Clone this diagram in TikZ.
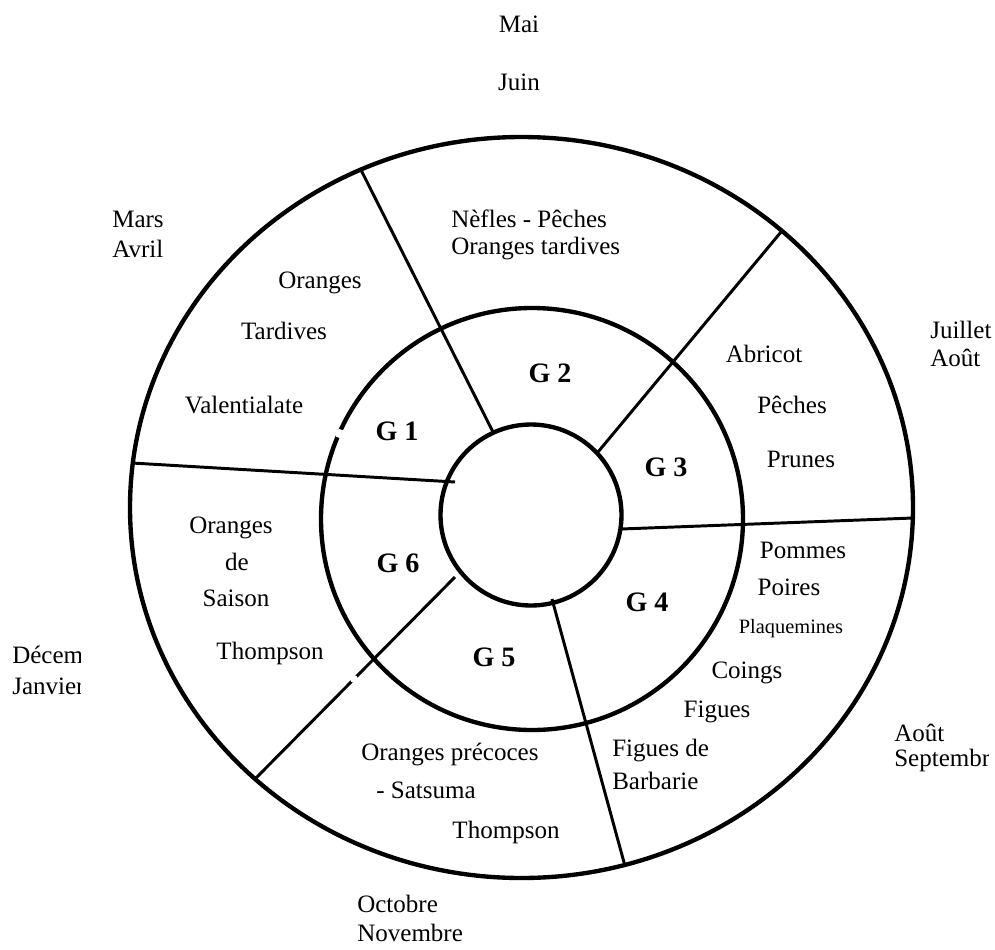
\documentclass[tikz,border=0pt]{standalone}
\usepackage{fontspec}
\setmainfont{Liberation Serif}

\begin{document}
\begin{tikzpicture}[
		x=0.025cm, y=-0.025cm,
		ring/.style={line width=3.1pt},
		spoke/.style={line width=2.1pt},
		txt/.style={inner sep=0pt, font=\fontsize{17.8}{21}\selectfont},
		smalltxt/.style={inner sep=0pt, font=\fontsize{14.5}{17}\selectfont},
		grp/.style={inner sep=0pt, font=\fontsize{20}{24}\selectfont\bfseries}
	]
		\useasboundingbox (0,0) rectangle (995,949);

		% rings
		\coordinate (c) at (531,515);
		\draw[ring] (521.5,507.5) ellipse[x radius=391.5, y radius=370.5];
		\draw[ring] (532,519) circle[radius=211];
		\draw[ring] (c) circle[radius=90.5];

		% spokes
		\coordinate (g12out) at (360,168);  \coordinate (g12in) at (493,432);
		\coordinate (g23out) at (781,232);  \coordinate (g23in) at (598,452);
		\coordinate (g34out) at (913,518);  \coordinate (g34in) at (621,529);
		\coordinate (g45out) at (625,866);  \coordinate (g45in) at (552,599);
		\coordinate (g56out) at (255,779);  \coordinate (g56in) at (455,577);
		\coordinate (g61out) at (132,463);  \coordinate (g61in) at (455,482);
		\foreach \a/\b in {g12out/g12in,g23out/g23in,g34out/g34in,g45out/g45in,g56out/g56in,g61out/g61in}
			\draw[spoke] (\a) -- (\b);

		% gaps of the scan
		\fill[white] (339.5,433.5) circle[radius=4.5];
		\fill[white] (354,679) circle[radius=4];

		% groups
		\node[grp] (g1) at (397,431) {G 1};
		\node[grp] (g2) at (550,373) {G 2};
		\node[grp] (g3) at (666,467) {G 3};
		\node[grp] (g4) at (647,602) {G 4};
		\node[grp] (g5) at (494,657) {G 5};
		\node[grp] (g6) at (398,563) {G 6};

		% fruits
		\node[txt, anchor=base west] (nefles) at (451,227) {Nèfles - Pêches};
		\node[txt, anchor=base west] (tardives2) at (451,254) {Oranges tardives};
		\node[txt, anchor=base] (oranges1) at (320,288) {Oranges};
		\node[txt, anchor=base] (tardives1) at (284,339) {Tardives};
		\node[txt, anchor=base] (valencia) at (244,413) {Valentialate};
		\node[txt, anchor=base] (abricot) at (764,362) {Abricot};
		\node[txt, anchor=base] (peches) at (792,413) {Pêches};
		\node[txt, anchor=base] (prunes) at (801,467) {Prunes};
		\node[txt, anchor=base] (oranges6) at (231,533) {Oranges};
		\node[txt, anchor=base] (de6) at (237,570) {de};
		\node[txt, anchor=base] (saison) at (236,606) {Saison};
		\node[txt, anchor=base] (thompson6) at (270,659) {Thompson};
		\node[txt, anchor=base] (pommes) at (803,558) {Pommes};
		\node[txt, anchor=base] (poires) at (789,595) {Poires};
		\node[smalltxt, anchor=base] (plaquemines) at (791,633) {Plaquemines};
		\node[txt, anchor=base] (coings) at (747,678) {Coings};
		\node[txt, anchor=base] (figues) at (717,717) {Figues};
		\node[txt, anchor=base west] (figuesde) at (612,756) {Figues de};
		\node[txt, anchor=base west] (barbarie) at (612,789) {Barbarie};
		\node[txt, anchor=base west] (precoces) at (361,760) {Oranges précoces};
		\node[txt, anchor=base west] (satsuma) at (376,798) {- Satsuma};
		\node[txt, anchor=base] (thompson5) at (506,838) {Thompson};

		% months
		\node[txt, anchor=base] (mai) at (519,32) {Mai};
		\node[txt, anchor=base] (juin) at (519,90) {Juin};
		\node[txt, anchor=base west] (mars) at (112,227) {Mars};
		\node[txt, anchor=base west] (avril) at (112,257) {Avril};
		\node[txt, anchor=base west] (juillet) at (930,338) {Juillet};
		\node[txt, anchor=base west] (aout1) at (930,366) {Août};
		\node[txt, anchor=base west] (octobre) at (357,912) {Octobre};
		\node[txt, anchor=base west] (novembre) at (357,941) {Novembre};
		\begin{scope}
			\clip (0,600) rectangle (80,720);
			\node[txt, anchor=base west] (decembre) at (12,663) {Décembre};
			\node[txt, anchor=base west] (janvier) at (12,694) {Janvier};
		\end{scope}
		\begin{scope}
			\clip (850,700) rectangle (988,800);
			\node[txt, anchor=base west] (aout2) at (894,741) {Août};
			\node[txt, anchor=base west] (septembre) at (894,766) {Septembre};
		\end{scope}
	\end{tikzpicture}
\end{document}
